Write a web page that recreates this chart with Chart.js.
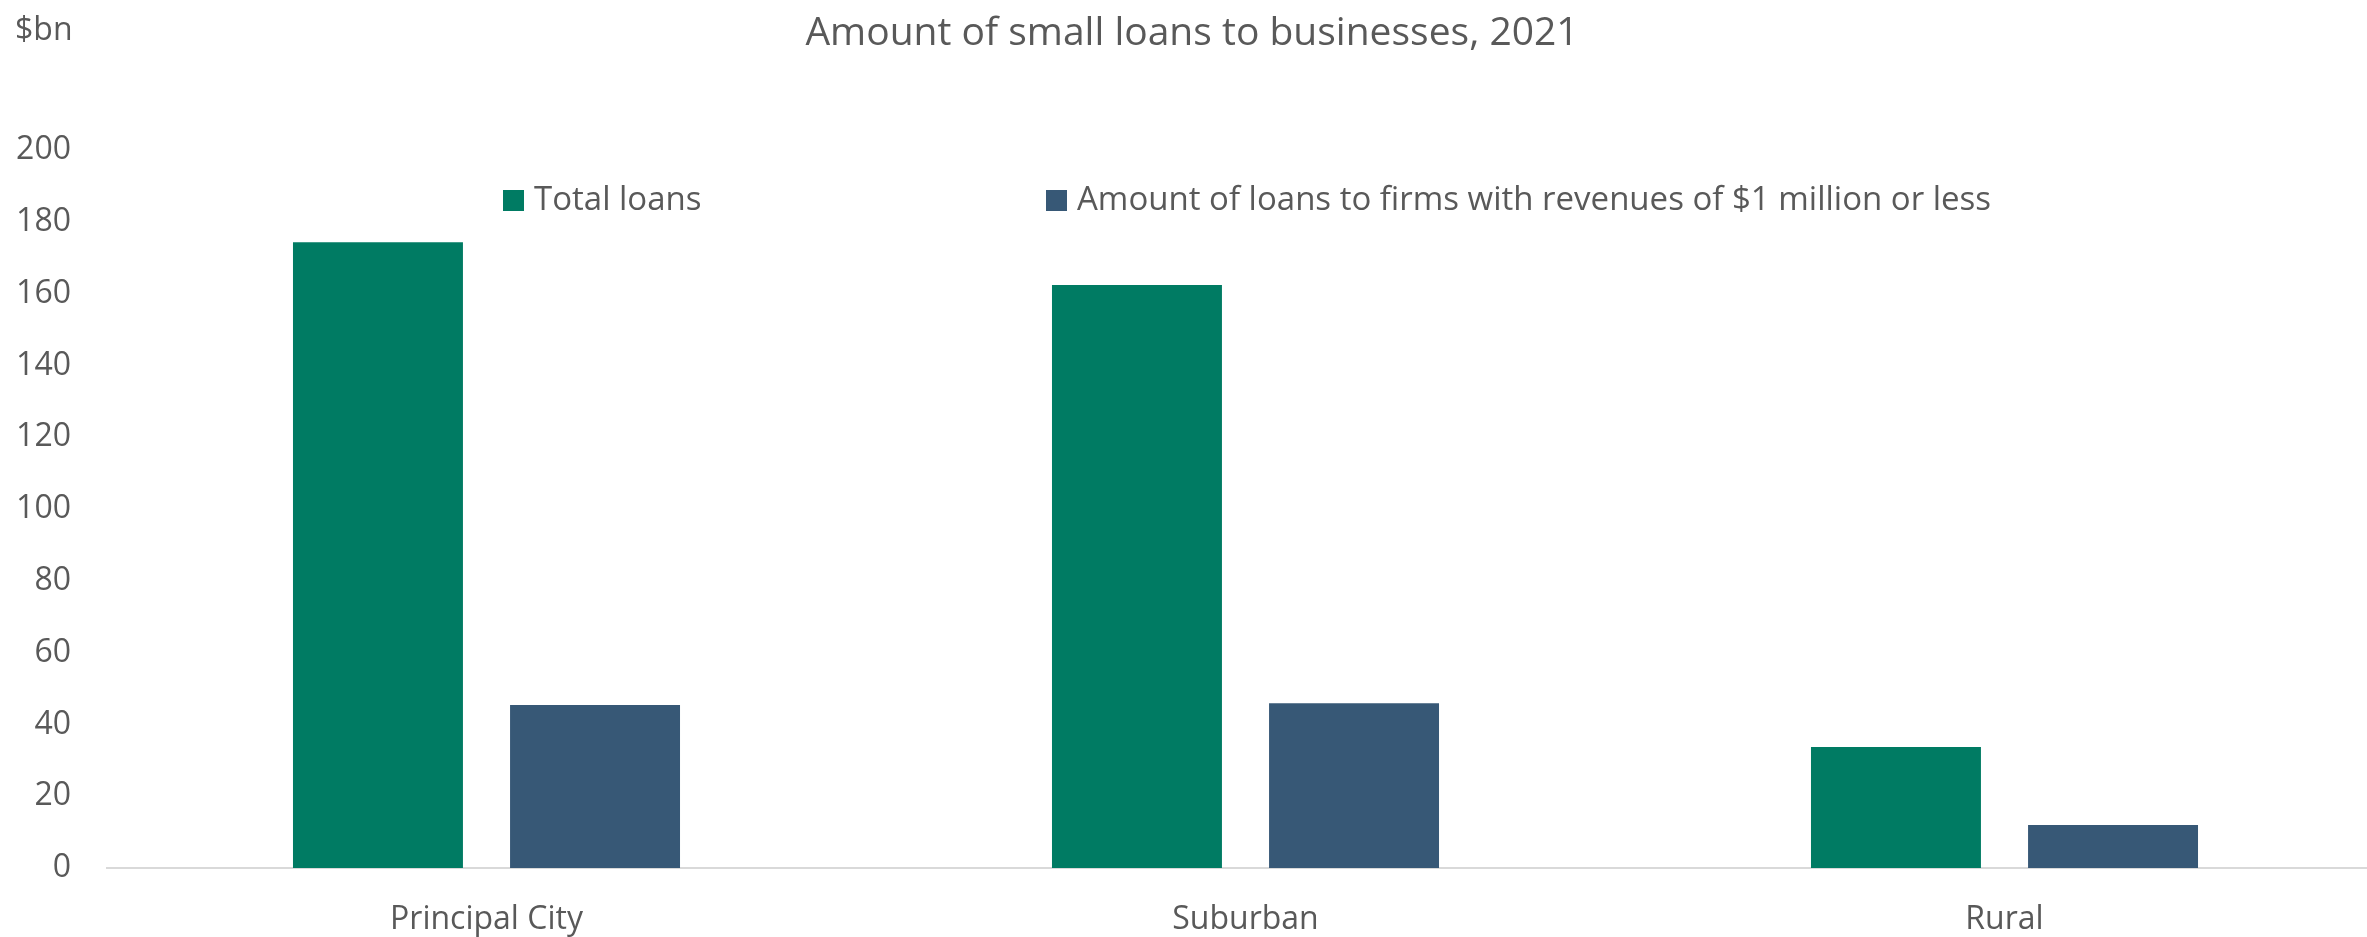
<!DOCTYPE html>
<html>
<head>
<meta charset="utf-8">
<title>Amount of small loans to businesses, 2021</title>
<script src="https://cdn.jsdelivr.net/npm/chart.js@4.4.1/dist/chart.umd.min.js"></script>
<style>
    html, body { margin: 0; padding: 0; background: #ffffff; overflow: hidden; }
    #wrap { width: 2384px; height: 937px; position: relative; }
</style>
</head>
<body>
<div id="wrap"><canvas id="loansChart"></canvas></div>
<script>
// values ($bn)
const categories = ["Principal City", "Suburban", "Rural"];
const seriesNames = ["Total loans", "Amount of loans to firms with revenues of $1 million or less"];
const totalLoans = [174.3, 162.4, 33.7];
const smallFirmLoans = [45.4, 45.9, 12.0];
const seriesColors = ["#007B63", "#375876"];

const yMin = 0;
const yMax = 200;
const yStep = 20;

const textColor = "#595959";
const fontFamily = "'Open Sans', 'Noto Sans', sans-serif";

// legend sits inside the plot, items spaced far apart
const legendItems = [
    { x: 503, y: 190 },
    { x: 1046, y: 190 }
];

const extraText = {
    id: "extraText",
    afterDraw(chart) {
        const ctx = chart.ctx;
        ctx.save();
        ctx.fillStyle = textColor;
        ctx.font = "32px " + fontFamily;
        ctx.textAlign = "left";
        ctx.textBaseline = "middle";
        ctx.fillText("$bn", 15, 31);

        ctx.font = "33px " + fontFamily;
        chart.data.datasets.forEach((ds, i) => {
            let pos = legendItems[i];
            ctx.fillStyle = ds.backgroundColor;
            ctx.fillRect(pos.x, pos.y, 21, 21);
            ctx.fillStyle = textColor;
            ctx.fillText(ds.label, pos.x + 31, pos.y + 11);
        });
        ctx.restore();
    }
};

const ctx = document.getElementById("loansChart").getContext("2d");
const chart = new Chart(ctx, {
    type: "bar",
    data: {
        labels: categories,
        datasets: [
            {
                label: seriesNames[0],
                data: totalLoans,
                backgroundColor: seriesColors[0],
                categoryPercentage: 0.572,
                barPercentage: 0.783
            },
            {
                label: seriesNames[1],
                data: smallFirmLoans,
                backgroundColor: seriesColors[1],
                categoryPercentage: 0.572,
                barPercentage: 0.783
            }
        ]
    },
    options: {
        responsive: true,
        maintainAspectRatio: false,
        animation: false,
        devicePixelRatio: 1,
        layout: { padding: 0 },
        plugins: {
            legend: { display: false },
            tooltip: { enabled: false },
            title: {
                display: true,
                text: "Amount of small loans to businesses, 2021",
                color: textColor,
                font: { family: fontFamily, size: 39, weight: "normal" },
                padding: { top: 10, bottom: 93.2 }
            }
        },
        scales: {
            x: {
                grid: { display: false, drawTicks: false },
                border: { display: true, color: "#d9d9d9", width: 2 },
                ticks: {
                    color: textColor,
                    font: { family: fontFamily, size: 32 },
                    padding: 33
                },
                afterFit: (scale) => { scale.height = 69; }
            },
            y: {
                min: yMin,
                max: yMax,
                grid: { display: false, drawTicks: false },
                border: { display: false },
                ticks: {
                    stepSize: yStep,
                    color: textColor,
                    font: { family: fontFamily, size: 32 },
                    padding: 36
                },
                afterFit: (scale) => { scale.width = 107; }
            }
        }
    },
    plugins: [extraText]
});
</script>
</body>
</html>
